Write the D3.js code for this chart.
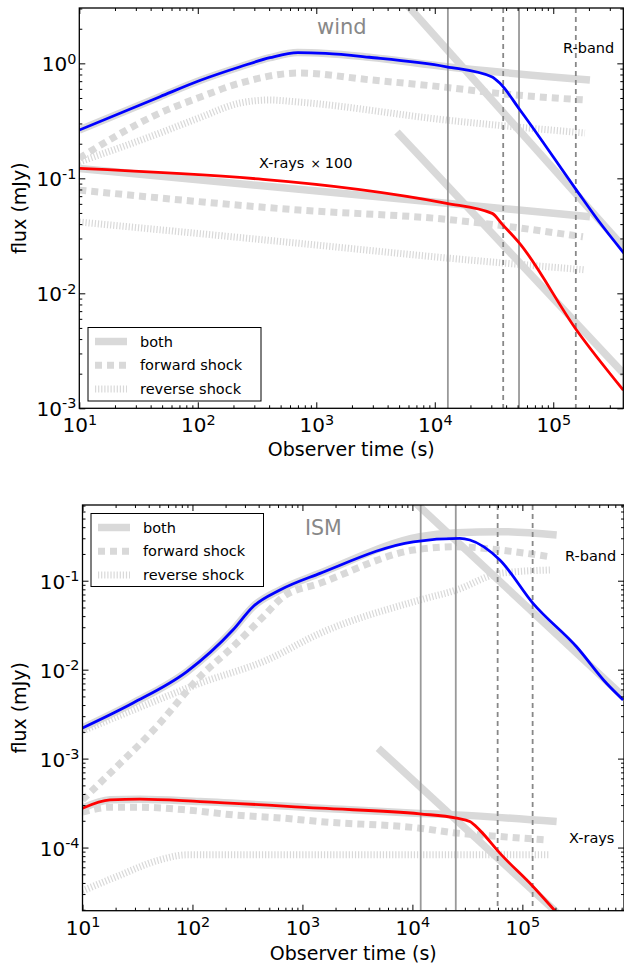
<!DOCTYPE html>
<html>
<head>
<meta charset="utf-8">
<script src="https://cdn.jsdelivr.net/npm/d3@7"></script>
<style>
body { margin: 0; background: #fff; }
svg { display: block; font-family: "DejaVu Sans", sans-serif; }
</style>
</head>
<body>
<svg id="chart" width="624" height="963"></svg>
<script>
// tick values and labels
const xTicks = [1e1, 1e2, 1e3, 1e4, 1e5]
const windYTicks = [1e-3, 1e-2, 1e-1, 1e0]
const ismYTicks = [1e-4, 1e-3, 1e-2, 1e-1]
const legendLabels = ['both', 'forward shock', 'reverse shock']

// ---- wind panel, [time (s), flux (mJy)] ----
const windRNumeric = [[10, 0.263], [48, 0.513], [104, 0.709], [228, 0.934], [406, 1.12], [700, 1.24],
	[1200, 1.22], [2800, 1.13], [12600, 0.934], [30200, 0.765], [35500, 0.67], [52400, 0.393],
	[157000, 0.079], [238000, 0.0434], [394000, 0.0224]]
const windRBoth = [[10, 0.263], [48, 0.513], [104, 0.709], [228, 0.934], [406, 1.12], [700, 1.24],
	[1200, 1.22], [2800, 1.13], [12600, 0.934], [204000, 0.716]]
const windRBothSteep = [[5000, 3.86], [395000, 0.025]]
const windRForward = [[10, 0.15], [48, 0.37], [100, 0.5], [228, 0.674], [720, 0.824], [2800, 0.72],
	[12600, 0.618], [34700, 0.548], [185000, 0.48]]
const windRReverse = [[10, 0.139], [48, 0.248], [100, 0.332], [228, 0.452], [400, 0.48], [720, 0.46],
	[12600, 0.321], [185000, 0.248]]

const windXNumeric = [[10, 0.122], [12600, 0.0607], [30500, 0.0496], [37000, 0.040], [52000, 0.0272],
	[157000, 0.0048], [390000, 0.00144]]
const windXBoth = [[10, 0.122], [12600, 0.0607], [204000, 0.0464]]
const windXBothSteep = [[4800, 0.253], [395000, 0.00199]]
const windXForward = [[10, 0.079], [720, 0.053], [12600, 0.044], [178000, 0.031]]
const windXReverse = [[10, 0.0417], [720, 0.0272], [12600, 0.0203], [185000, 0.016]]

const windSolidTimes = [12900, 51400]
const windDashedTimes = [37800, 155000]

// ---- ISM panel ----
const ismRNumeric = [[10, 0.00221], [28.8, 0.00422], [89, 0.0095], [233, 0.0279], [355, 0.0511],
	[624, 0.0787], [1442, 0.121], [10200, 0.274], [27000, 0.299], [33300, 0.287], [62400, 0.171],
	[125000, 0.0557], [311000, 0.0181], [582000, 0.00703], [824000, 0.00457]]
const ismRBoth = [[10, 0.00221], [28.8, 0.00422], [89, 0.0095], [233, 0.0279], [355, 0.0511],
	[624, 0.0787], [1442, 0.121], [11700, 0.312], [25200, 0.346], [62400, 0.356], [205000, 0.326]]
const ismRBothSteep = [[9000, 0.914], [837000, 0.00493]]
const ismRForward = [[10, 3.44e-4], [17.8, 6.85e-4], [47.3, 2.29e-3], [117, 8.34e-3], [233, 0.0181],
	[440, 0.0394], [669, 0.066], [1442, 0.0935], [10200, 0.221], [25200, 0.241], [62400, 0.221],
	[178000, 0.186]]
const ismRReverse = [[10, 2.05e-3], [29, 3.52e-3], [117, 7.03e-3], [473, 0.0128],
	[1442, 0.0256], [11700, 0.0607], [25200, 0.0787], [62400, 0.121], [178000, 0.132]]

const ismXNumeric = [[10, 2.77e-4], [17.8, 3.44e-4], [33.3, 3.5e-4], [117, 3.29e-4], [1442, 2.77e-4],
	[11700, 2.39e-4], [25200, 2.14e-4], [33300, 1.96e-4], [41100, 1.56e-4], [62400, 8.65e-5],
	[125000, 3.65e-5], [197000, 1.96e-5], [250000, 1.41e-5]]
const ismXBoth = [[10, 2.77e-4], [17.8, 3.44e-4], [33.3, 3.5e-4], [117, 3.29e-4], [1442, 2.77e-4],
	[11700, 2.42e-4], [25200, 2.33e-4], [205000, 1.96e-4]]
const ismXBothSteep = [[4890, 1.31e-3], [219000, 1.73e-5]]
const ismXForward = [[10, 2.5e-4], [17.8, 2.84e-4], [33.3, 2.84e-4], [88.5, 2.65e-4], [235, 2.33e-4],
	[669, 2.14e-4], [1442, 1.96e-4], [11700, 1.65e-4], [23500, 1.47e-4], [62400, 1.33e-4],
	[166000, 1.22e-4]]
const ismXReverse = [[10, 3.26e-5], [20.5, 4.72e-5], [50.7, 7.28e-5], [88.5, 8.28e-5], [1442, 8.28e-5],
	[178000, 8.28e-5]]

const ismSolidTimes = [11900, 24800]
const ismDashedTimes = [59600, 124000]

const GRAY = '#d9d9d9'
const STYLES = {
	both: { stroke: GRAY, width: 7.5, dash: null },
	forward: { stroke: GRAY, width: 7, dash: '7,5' },
	reverse: { stroke: GRAY, width: 7, dash: '1.2,1.9' },
	blue: { stroke: '#0000ff', width: 2.8, dash: null },
	red: { stroke: '#ff0000', width: 2.8, dash: null }
}

const svg = d3.select('#chart')

const minorTicks = domain => {
	const out = []
	const lo = Math.floor(Math.log10(domain[0]))
	const hi = Math.ceil(Math.log10(domain[1]))
	for (let e = lo; e <= hi; e++) {
		for (let k = 2; k <= 9; k++) {
			const v = k * 10 ** e
			if (v > domain[0] && v < domain[1]) out.push(v)
		}
	}
	return out
}

const powLabel = (sel) => {
	sel.each(function (d) {
		const t = d3.select(this).text(null)
		const e = Math.round(Math.log10(d))
		t.append('tspan').text('10')
		t.append('tspan').attr('dy', '-0.55em').attr('font-size', '0.72em').text(e < 0 ? '-' + (-e) : e)
	})
}

let clipId = 0
const drawPanel = p => {
	const x = d3.scaleLog().domain(p.xDomain).range([p.left, p.right])
	const y = d3.scaleLog().domain(p.yDomain).range([p.bottom, p.top])
	const id = 'clip' + (clipId++)
	svg.append('clipPath').attr('id', id)
		.append('rect').attr('x', p.left).attr('y', p.top)
		.attr('width', p.right - p.left).attr('height', p.bottom - p.top)

	const plot = svg.append('g').attr('clip-path', `url(#${id})`)
	const line = d3.line().x(d => x(d[0])).y(d => y(d[1])).curve(d3.curveMonotoneX)

	const drawLine = (data, st) => {
		plot.append('path').datum(data)
			.attr('d', line)
			.attr('fill', 'none')
			.attr('stroke', st.stroke)
			.attr('stroke-width', st.width)
			.attr('stroke-dasharray', st.dash)
			.attr('stroke-linejoin', 'round')
	}

	p.grayLines.forEach(l => drawLine(l.data, STYLES[l.style]))

	// characteristic times
	p.solidTimes.forEach(t => {
		plot.append('line').attr('x1', x(t)).attr('x2', x(t)).attr('y1', p.top).attr('y2', p.bottom)
			.attr('stroke', '#999').attr('stroke-width', 1.8)
	})
	p.dashedTimes.forEach(t => {
		plot.append('line').attr('x1', x(t)).attr('x2', x(t)).attr('y1', p.top).attr('y2', p.bottom)
			.attr('stroke', '#888').attr('stroke-width', 1.8).attr('stroke-dasharray', '5,4')
	})

	p.colorLines.forEach(l => drawLine(l.data, STYLES[l.style]))

	// axes, ticks pointing inward
	const ax = (gen, tx, ty, vals, size, labels, pad) => {
		const g = svg.append('g').attr('transform', `translate(${tx},${ty})`)
			.call(gen.tickValues(vals).tickSize(size).tickSizeOuter(0).tickPadding(pad || 3)
				.tickFormat(labels ? d => d : ''))
		g.select('.domain').remove()
		g.selectAll('.tick line').attr('stroke', '#000').attr('stroke-width', 1)
		g.attr('font-family', null).attr('font-size', 20)
		if (labels) g.selectAll('.tick text').attr('fill', '#000').call(powLabel)
		return g
	}
	const xMinor = minorTicks(p.xDomain)
	const yMinor = minorTicks(p.yDomain)
	ax(d3.axisBottom(x), 0, p.bottom, xTicks, -6, true, 10)
	ax(d3.axisBottom(x), 0, p.bottom, xMinor, -3, false)
	ax(d3.axisTop(x), 0, p.top, xTicks, -6, false)
	ax(d3.axisTop(x), 0, p.top, xMinor, -3, false)
	const gy = ax(d3.axisLeft(y), p.left, 0, p.yTicks, -6, true, 3)
	gy.selectAll('.tick text').attr('dy', '0.38em')
	ax(d3.axisLeft(y), p.left, 0, yMinor, -3, false)
	ax(d3.axisRight(y), p.right, 0, p.yTicks, -6, false)
	ax(d3.axisRight(y), p.right, 0, yMinor, -3, false)

	svg.append('rect').attr('x', p.left).attr('y', p.top)
		.attr('width', p.right - p.left).attr('height', p.bottom - p.top)
		.attr('fill', 'none').attr('stroke', '#000').attr('stroke-width', 1.3)

	svg.append('text').attr('x', (p.left + p.right) / 2).attr('y', p.bottom + p.xLabelGap)
		.attr('text-anchor', 'middle').attr('font-size', 19).text('Observer time (s)')
	svg.append('text')
		.attr('transform', `translate(26,${(p.top + p.bottom) / 2}) rotate(-90)`)
		.attr('text-anchor', 'middle').attr('font-size', 19).text('flux (mJy)')

	p.texts.forEach(t => {
		const el = svg.append('text').attr('x', t.x).attr('y', t.y)
			.attr('font-size', t.size).attr('fill', t.color || '#000')
		el.append('tspan').text(t.text)
		if (t.times) {
			el.append('tspan').attr('dx', 6).attr('font-size', t.size * 0.85).text('×')
			el.append('tspan').attr('dx', 4).text(t.times)
		}
	})

	// legend
	const lg = svg.append('g').attr('transform', `translate(${p.legend.x},${p.legend.y})`)
	lg.append('rect').attr('width', p.legend.w).attr('height', p.legend.h)
		.attr('fill', '#fff').attr('stroke', '#000').attr('stroke-width', 1)
	const keys = ['both', 'forward', 'reverse']
	legendLabels.forEach((lab, i) => {
		const cy = 14 + i * 23.7
		const st = STYLES[keys[i]]
		lg.append('line').attr('x1', 7).attr('x2', 39).attr('y1', cy).attr('y2', cy)
			.attr('stroke', st.stroke).attr('stroke-width', st.width).attr('stroke-dasharray', st.dash)
		lg.append('text').attr('x', 52).attr('y', cy).attr('dy', '0.35em')
			.attr('font-size', 14.5).text(lab)
	})
}

drawPanel({
	left: 79.3, right: 623.3, top: 8, bottom: 408.3, xLabelGap: 47.5,
	xDomain: [10, 3.9e5], yDomain: [1e-3, 3.03], yTicks: windYTicks,
	grayLines: [
		{ data: windRBoth, style: 'both' }, { data: windRBothSteep, style: 'both' },
		{ data: windRForward, style: 'forward' }, { data: windRReverse, style: 'reverse' },
		{ data: windXBoth, style: 'both' }, { data: windXBothSteep, style: 'both' },
		{ data: windXForward, style: 'forward' }, { data: windXReverse, style: 'reverse' }
	],
	colorLines: [{ data: windRNumeric, style: 'blue' }, { data: windXNumeric, style: 'red' }],
	solidTimes: windSolidTimes, dashedTimes: windDashedTimes,
	texts: [
		{ text: 'wind', x: 317, y: 34, size: 21, color: '#888' },
		{ text: 'R-band', x: 563, y: 53, size: 14.5 },
		{ text: 'X-rays', times: '100', x: 259, y: 168, size: 14.5 }
	],
	legend: { x: 88, y: 327.5, w: 173, h: 73.5 }
})

drawPanel({
	left: 82.5, right: 624, top: 505, bottom: 910.7, xLabelGap: 49,
	xDomain: [10, 8.4e5], yDomain: [1.95e-5, 0.71], yTicks: ismYTicks,
	grayLines: [
		{ data: ismRBoth, style: 'both' }, { data: ismRBothSteep, style: 'both' },
		{ data: ismRForward, style: 'forward' }, { data: ismRReverse, style: 'reverse' },
		{ data: ismXBoth, style: 'both' }, { data: ismXBothSteep, style: 'both' },
		{ data: ismXForward, style: 'forward' }, { data: ismXReverse, style: 'reverse' }
	],
	colorLines: [{ data: ismRNumeric, style: 'blue' }, { data: ismXNumeric, style: 'red' }],
	solidTimes: ismSolidTimes, dashedTimes: ismDashedTimes,
	texts: [
		{ text: 'ISM', x: 305, y: 535, size: 20.5, color: '#888' },
		{ text: 'R-band', x: 565, y: 561, size: 14.5 },
		{ text: 'X-rays', x: 569, y: 843, size: 14.5 }
	],
	legend: { x: 91, y: 513.5, w: 172.5, h: 73 }
})
</script>
</body>
</html>
